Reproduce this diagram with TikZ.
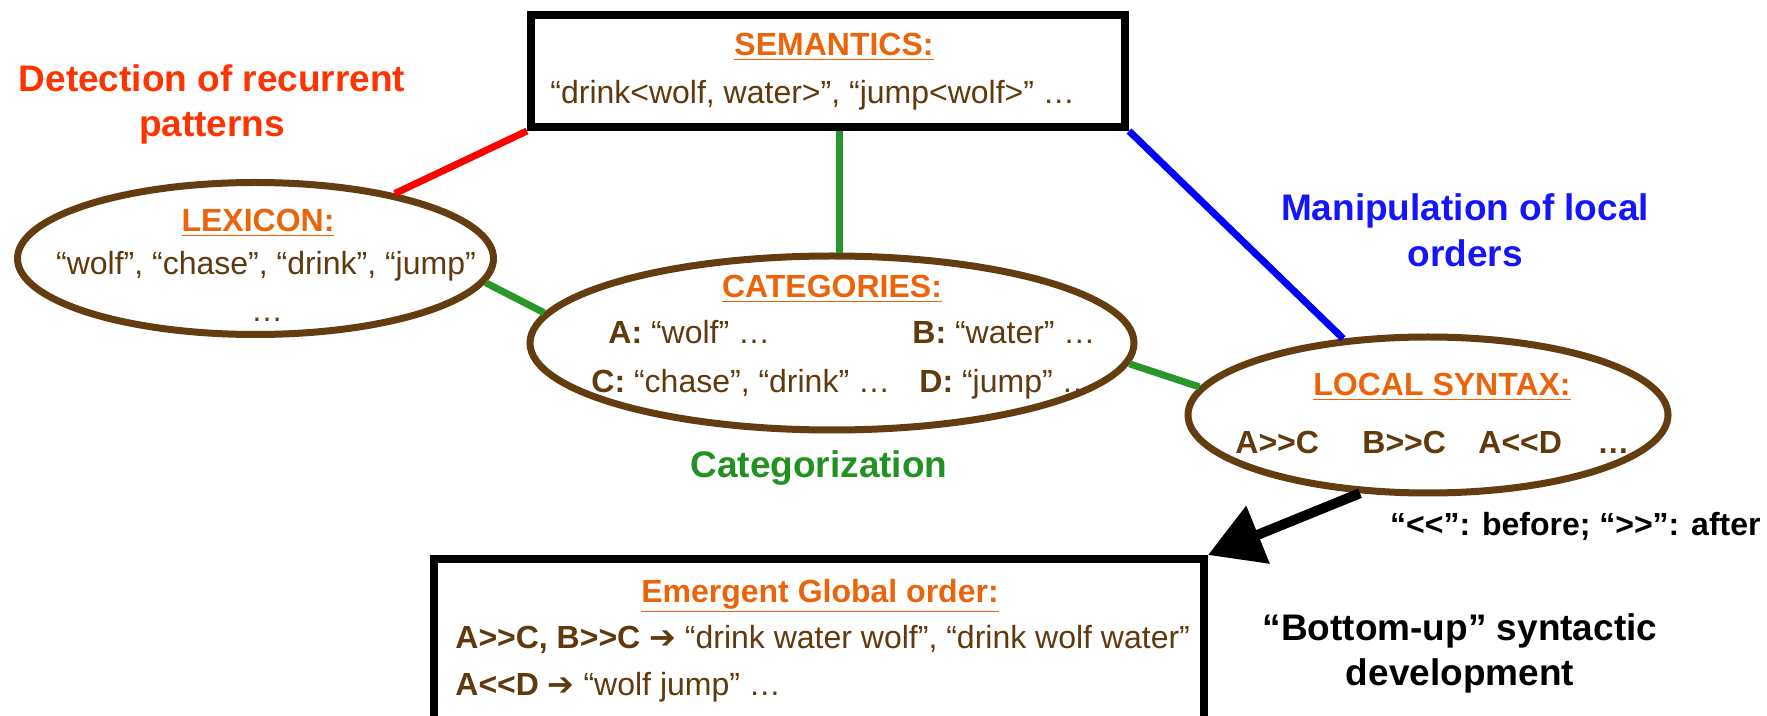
\documentclass[tikz,border=0pt]{standalone}
\usepackage{fontspec}
\setmainfont{Liberation Sans}[Ligatures=TeXOff]
\newfontfamily\dv{DejaVu Sans}
\usetikzlibrary{arrows.meta,shapes.geometric}
\definecolor{orng}{RGB}{235,100,10}
\definecolor{brn}{RGB}{99,60,15}
\definecolor{txtbrn}{RGB}{96,58,12}
\definecolor{redl}{RGB}{255,0,0}
\definecolor{redt}{RGB}{255,51,0}
\definecolor{grn}{RGB}{40,150,40}
\definecolor{grnt}{RGB}{34,145,34}
\definecolor{blu}{RGB}{0,0,255}
\definecolor{blut}{RGB}{20,20,255}
\begin{document}
\begin{tikzpicture}[x=0.5pt,y=-0.5pt,
  hd/.style={font=\fontsize{16}{19}\selectfont\bfseries, text=orng, inner sep=0pt, anchor=base},
  bd/.style={font=\fontsize{16}{19}\selectfont, text=txtbrn, inner sep=0pt, anchor=base},
  bdb/.style={font=\fontsize{16}{19}\selectfont\bfseries, text=txtbrn, inner sep=0pt, anchor=base west},
  lbl/.style={font=\fontsize{18.5}{22}\selectfont\bfseries, inner sep=0pt, anchor=base},
  ell/.style={ellipse, draw=brn, line width=3.5pt, inner sep=0pt},
  box/.style={rectangle, draw=black, line width=4pt, inner sep=0pt},
  conn/.style={line width=3.5pt}]
\clip (0,0) rectangle (1767,716);
\fill[white] (0,0) rectangle (1767,716);

% boxes
\node[box, minimum width=297pt, minimum height=55.75pt] (sem) at (828,71.25) {};
\node[box, minimum width=385pt, minimum height=100.5pt] (emg) at (819,659.5) {};

% texts
\node[hd] (semh) at (834,56) {\underline{SEMANTICS:}};
\node[bd, anchor=base west] (semb) at (550,104) {“drink<wolf, water>”, “jump<wolf>” …};

\node[lbl, text=redt] (det1) at (212,92) {Detection of recurrent};
\node[lbl, text=redt] (det2) at (212,137) {patterns};

\node[hd] (lexh) at (258,232) {\underline{LEXICON:}};
\node[bd] (lexb) at (266,275) {“wolf”, “chase”, “drink”, “jump”};
\node[bd] (lexd) at (267,322) {…};

\node[hd] (cath) at (832,298) {\underline{CATEGORIES:}};
\node[bd, anchor=base west] (ca) at (608,344) {\textbf{A:} “wolf” …};
\node[bd, anchor=base west] (cb) at (912,344) {\textbf{B:} “water” …};
\node[bd, anchor=base west] (cc) at (591,393) {\textbf{C:} “chase”, “drink” …};
\node[bd, anchor=base west] (cd) at (919,393) {\textbf{D:} “jump” …};

\node[lbl, text=grnt] (catg) at (819,478) {Categorization};

\node[lbl, text=blut] (man1) at (1465,221) {Manipulation of local};
\node[lbl, text=blut] (man2) at (1465,267) {orders};

\node[hd] (loch) at (1442,396) {\underline{LOCAL SYNTAX:}};
\node[bdb] (l1) at (1235,453) {A>>C};
\node[bdb] (l2) at (1362,453) {B>>C};
\node[bdb] (l3) at (1478,453) {A<<D};
\node[bdb] (l4) at (1597,453) {…};

\node[lbl, font=\fontsize{16}{19}\selectfont\bfseries, anchor=base east] (leg) at (1761,535) {“<<”: before; “>>”: after};

\node[hd] (emh) at (820,602) {\underline{Emergent Global order:}};
\node[bd, anchor=base west] (em1) at (455,648) {\textbf{A>>C, B>>C {\dv\bfseries ➔}} “drink water wolf”, “drink wolf water”};
\node[bd, anchor=base west] (em2) at (455,695) {\textbf{A<<D {\dv\bfseries ➔}} “wolf jump” …};

\node[lbl] (bu1) at (1460,640) {“Bottom-up” syntactic};
\node[lbl] (bu2) at (1460,685) {development};

% ellipses
\node[ell, minimum width=238pt, minimum height=76pt] (lex) at (255.5,258.5) {};
\node[ell, minimum width=302pt, minimum height=87pt] (cat) at (832,343) {};
\node[ell, minimum width=240pt, minimum height=78pt] (loc) at (1428,415) {};

% connectors
\draw[conn, redl] (lex.25) -- (sem.south west);
\draw[conn, grn] (cat.85) -- (cat.85 |- sem.south);
\draw[conn, grn] (lex.-6.5) -- (cat.174);
\draw[conn, grn] (cat.-4.5) -- (loc.173);
\draw[conn, blu] (sem.south east) -- (loc.138);
\draw[line width=5pt, -{Triangle[length=27pt, width=30pt]}] (loc.229) -- (emg.north east);
\end{tikzpicture}
\end{document}
